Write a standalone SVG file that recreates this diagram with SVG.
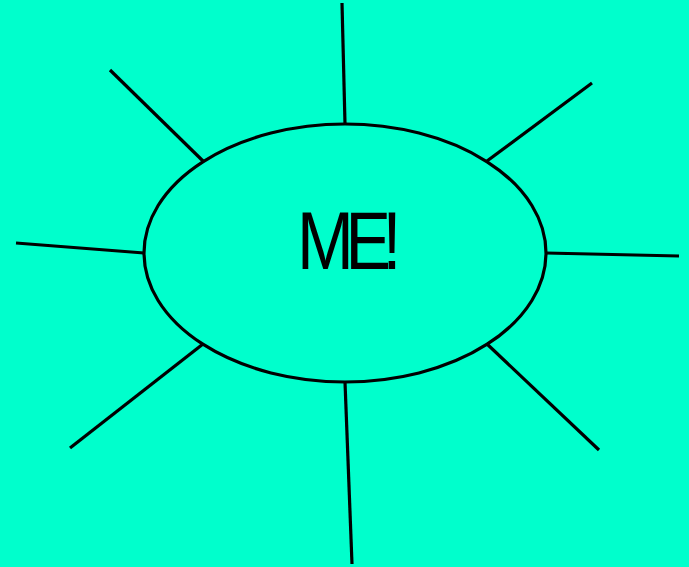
<svg xmlns="http://www.w3.org/2000/svg" width="689" height="567" viewBox="0 0 689 567">
<style>
.ray{stroke:#000;stroke-width:3.2;fill:none}
.body{fill:none;stroke:#000;stroke-width:3.2}
.lbl{font-family:"Liberation Sans",Arial,sans-serif;font-size:81px;fill:#000}
</style>
<rect width="689" height="567" fill="#00FFCC"/>
<g id="connectors">
<line class="ray" x1="342" y1="3" x2="345" y2="124"/>
<line class="ray" x1="110" y1="70" x2="203" y2="161"/>
<line class="ray" x1="592" y1="83" x2="487" y2="161"/>
<line class="ray" x1="16" y1="243" x2="144" y2="253"/>
<line class="ray" x1="546" y1="253" x2="679" y2="256"/>
<line class="ray" x1="70" y1="448" x2="203" y2="344"/>
<line class="ray" x1="345" y1="382" x2="352" y2="564"/>
<line class="ray" x1="599" y1="450" x2="487" y2="344"/>
</g>
<g id="me">
<ellipse class="body" cx="345" cy="253" rx="201" ry="129"/>
<text class="lbl" x="297" y="269" letter-spacing="-10" textLength="96" lengthAdjust="spacingAndGlyphs">ME!</text>
</g>
</svg>
